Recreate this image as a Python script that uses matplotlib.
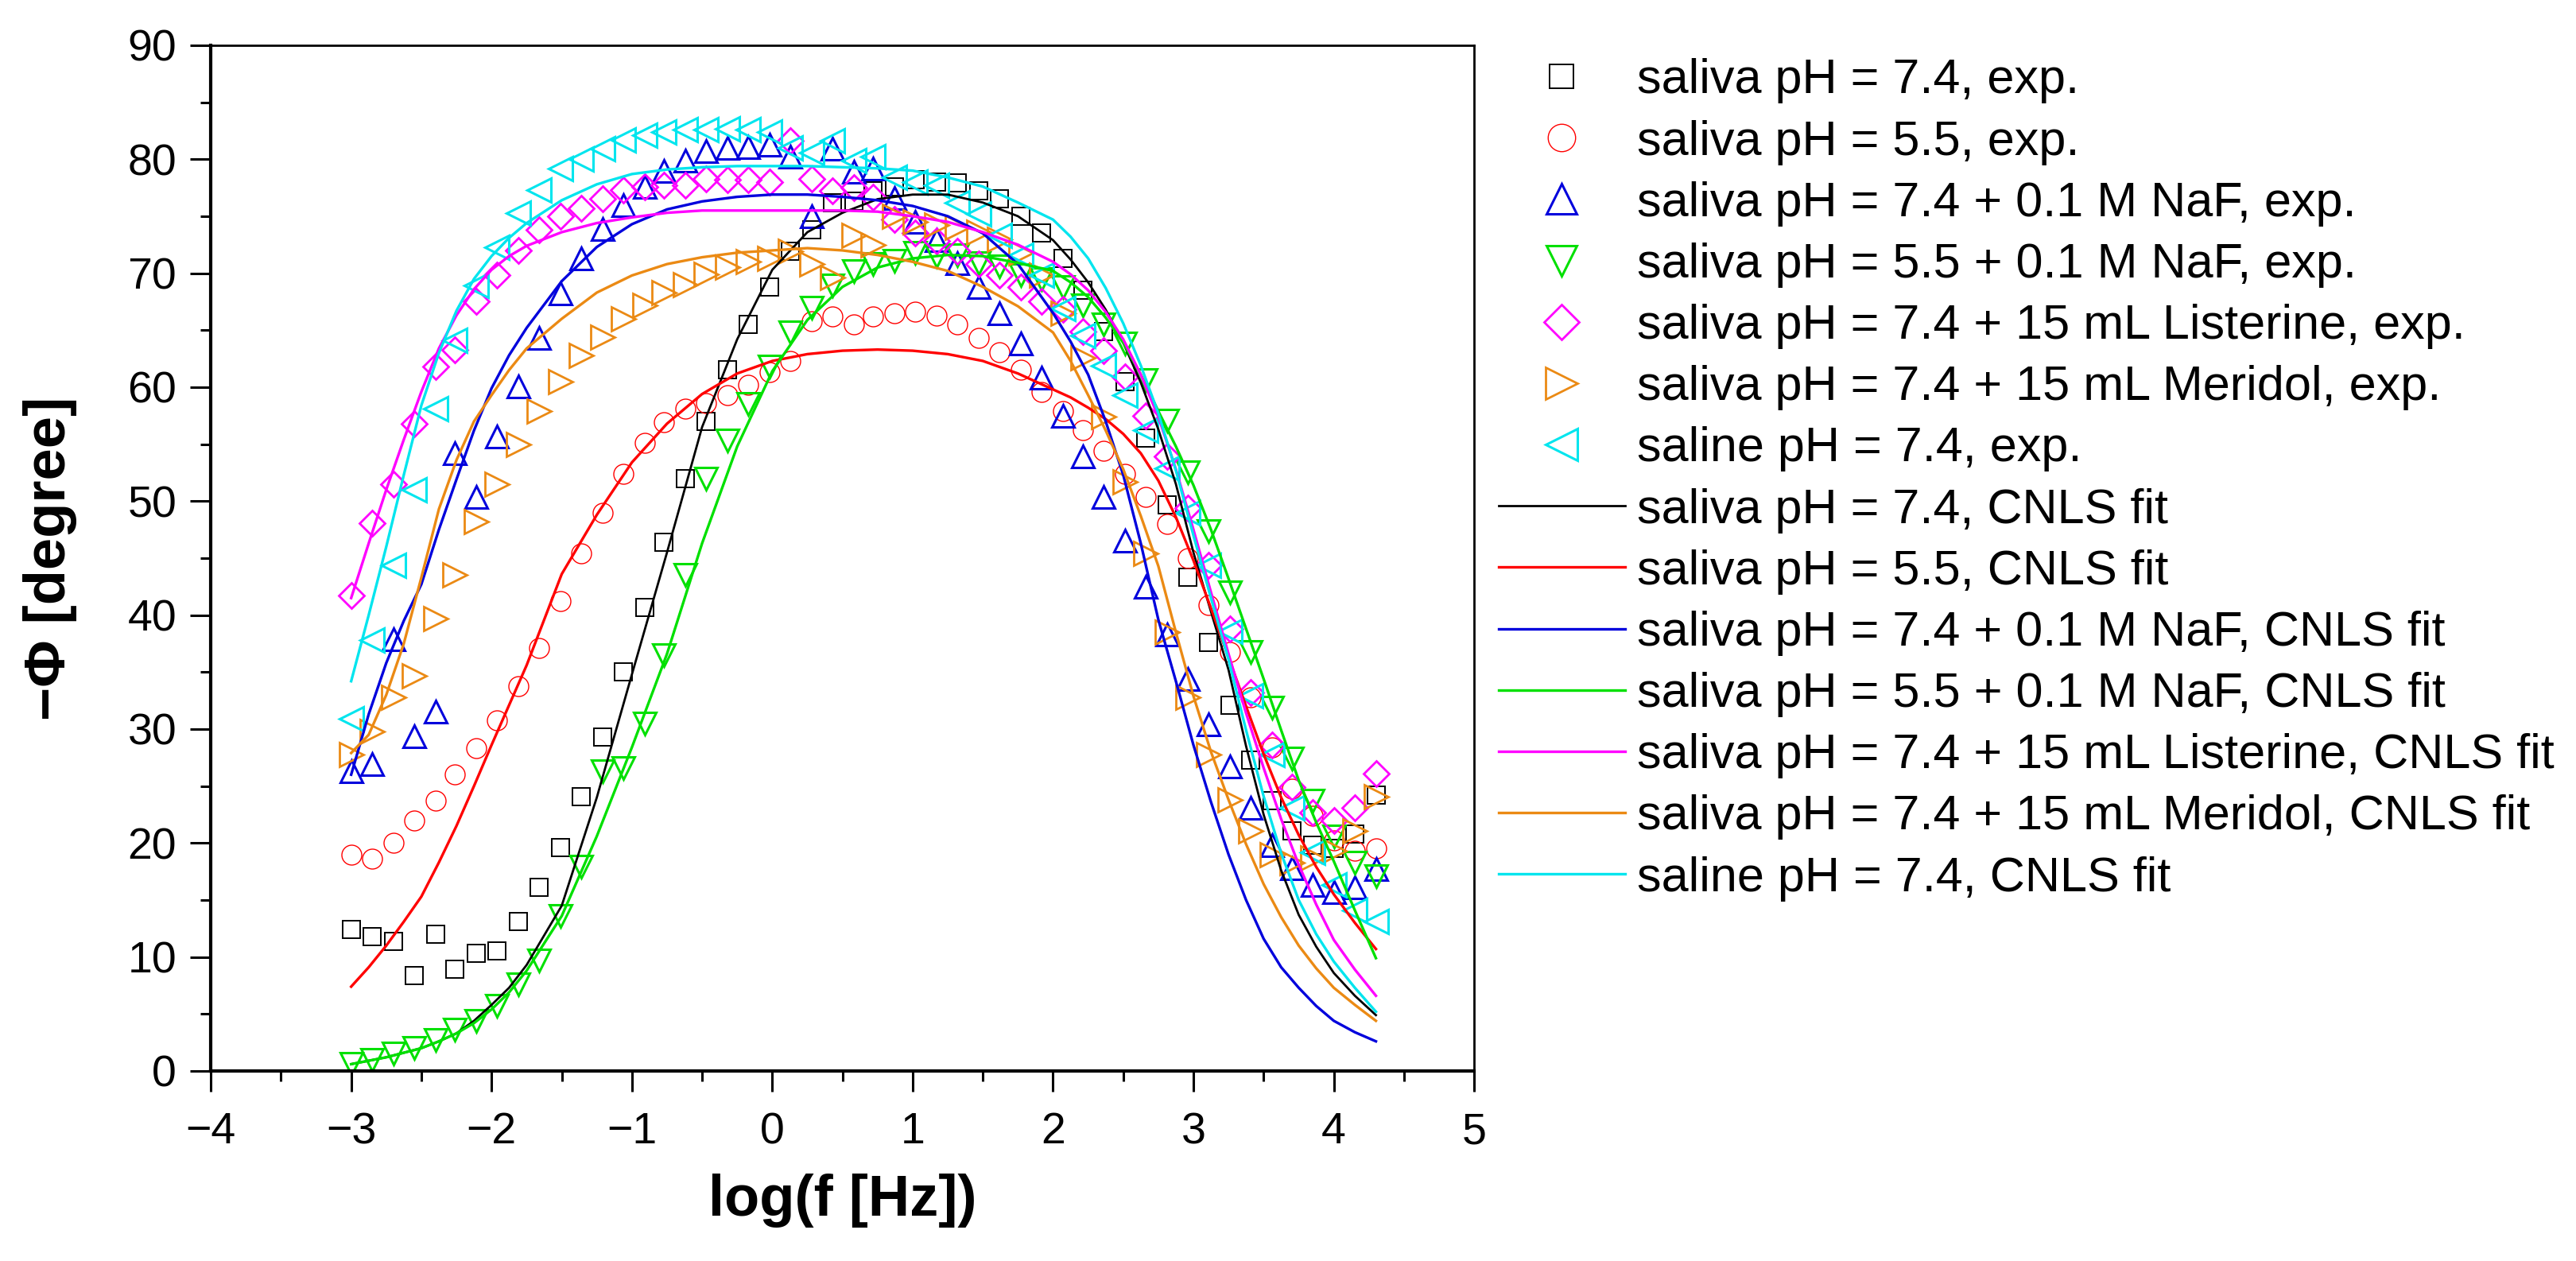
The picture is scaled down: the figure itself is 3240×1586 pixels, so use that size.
import matplotlib
matplotlib.use("Agg")
import matplotlib.pyplot as plt
from matplotlib.ticker import MultipleLocator

plt.rcParams['font.family'] = ['Liberation Sans', 'DejaVu Sans']

# log of the measured frequencies (same sweep for every sample)
log_f = [-3.00, -2.85, -2.70, -2.55, -2.40, -2.26, -2.11, -1.96, -1.81, -1.66,
         -1.51, -1.36, -1.21, -1.06, -0.91, -0.77, -0.62, -0.47, -0.32, -0.17,
         -0.02, 0.13, 0.28, 0.43, 0.58, 0.72, 0.87, 1.02, 1.17, 1.32,
         1.47, 1.62, 1.77, 1.92, 2.07, 2.21, 2.36, 2.51, 2.66, 2.81,
         2.96, 3.11, 3.26, 3.41, 3.56, 3.70, 3.85, 4.00, 4.15, 4.30]

# experimental phase angles, -phi [degree]
saliva74_exp = [12.4, 11.8, 11.4, 8.4, 12.0, 8.9, 10.3, 10.5, 13.1, 16.1,
                19.6, 24.1, 29.3, 35.0, 40.7, 46.4, 52.0, 57.0, 61.5, 65.5,
                68.8, 71.9, 73.8, 76.2, 76.3, 77.2, 77.6, 78.2, 78.0, 77.9,
                77.2, 76.5, 75.0, 73.5, 71.3, 68.5, 64.9, 60.5, 55.5, 49.7,
                43.3, 37.6, 32.1, 27.3, 23.7, 21.1, 19.8, 19.5, 20.8, 24.2]
saliva55_exp = [19.0, 18.6, 20.0, 22.0, 23.7, 26.0, 28.3, 30.8, 33.8, 37.1,
                41.2, 45.4, 49.0, 52.4, 55.1, 56.9, 58.1, 58.6, 59.3, 60.2,
                61.3, 62.3, 65.8, 66.2, 65.5, 66.2, 66.5, 66.6, 66.3, 65.5,
                64.3, 63.1, 61.5, 59.6, 57.9, 56.2, 54.4, 52.4, 50.4, 48.0,
                45.0, 40.9, 36.8, 32.8, 28.4, 24.8, 22.4, 20.2, 19.3, 19.5]
saliva74_naf_exp = [26.3, 26.9, 37.9, 29.4, 31.5, 54.2, 50.4, 55.7, 60.1, 64.3,
                    68.2, 71.3, 73.9, 76.0, 77.6, 79.0, 79.9, 80.7, 81.0, 81.1,
                    81.3, 80.2, 75.0, 80.9, 78.9, 79.2, 76.6, 74.5, 72.9, 70.9,
                    68.8, 66.5, 63.8, 60.8, 57.5, 53.9, 50.4, 46.5, 42.5, 38.3,
                    34.4, 30.4, 26.7, 23.1, 19.8, 17.8, 16.3, 15.7, 16.1, 17.7]
saliva55_naf_exp = [0.6, 1.0, 1.5, 2.0, 2.7, 3.6, 4.4, 5.7, 7.6, 9.7,
                    13.6, 17.9, 26.3, 26.6, 30.5, 36.5, 43.5, 52.0, 55.3, 58.5,
                    61.8, 64.8, 67.0, 68.9, 70.2, 70.8, 71.1, 71.8, 71.5, 71.6,
                    70.9, 70.6, 69.8, 69.5, 68.8, 67.2, 65.5, 63.8, 60.6, 57.1,
                    52.5, 47.4, 42.0, 36.8, 31.9, 27.4, 23.7, 20.6, 18.3, 17.1]
listerine_exp = [41.7, 48.1, 51.5, 56.8, 61.8, 63.3, 67.5, 69.8, 72.0, 73.8,
                 75.0, 75.7, 76.5, 77.3, 77.6, 77.7, 77.7, 78.3, 78.2, 78.2,
                 78.0, 81.6, 78.3, 77.2, 77.5, 76.7, 74.7, 73.5, 72.8, 71.9,
                 70.8, 69.8, 68.8, 67.5, 66.8, 64.9, 63.2, 60.9, 57.5, 53.9,
                 49.4, 44.4, 38.8, 33.2, 28.6, 24.9, 22.7, 22.0, 23.1, 26.1]
meridol_exp = [27.8, 29.8, 32.8, 34.7, 39.7, 43.5, 48.2, 51.5, 55.0, 57.9,
               60.5, 62.8, 64.4, 66.0, 67.2, 68.3, 69.0, 69.9, 70.5, 71.0,
               71.3, 71.9, 70.8, 69.6, 73.3, 72.5, 75.0, 74.5, 74.2, 74.0,
               73.6, 73.0, 71.8, 69.8, 66.5, 62.6, 57.4, 51.7, 45.4, 38.5,
               32.8, 27.8, 23.8, 21.1, 19.0, 18.3, 18.7, 19.3, 21.1, 24.1]
saline_exp = [30.9, 37.8, 44.4, 51.0, 58.1, 64.1, 68.9, 72.3, 75.3, 77.3,
              79.2, 80.0, 80.9, 81.7, 82.1, 82.4, 82.6, 82.6, 82.7, 82.6,
              82.4, 81.0, 80.6, 81.6, 79.9, 80.2, 78.4, 78.0, 77.7, 76.2,
              75.2, 73.3, 71.6, 69.8, 66.9, 64.5, 61.9, 59.3, 56.2, 52.9,
              49.0, 44.4, 38.6, 32.9, 27.8, 23.1, 19.2, 16.3, 14.1, 13.1]

fit_log_f = [-3.0, -2.875, -2.75, -2.625, -2.5, -2.375, -2.25, -2.125, -2.0, -1.875,
             -1.75, -1.5, -1.25, -1.0, -0.75, -0.5, -0.25, 0.0, 0.25, 0.5,
             0.75, 1.0, 1.25, 1.5, 1.75, 2.0, 2.125, 2.25, 2.375, 2.5,
             2.625, 2.75, 2.875, 3.0, 3.125, 3.25, 3.375, 3.5, 3.625, 3.75,
             3.875, 4.0, 4.15, 4.3]

saliva74_fit = [0.6, 0.9, 1.2, 1.6, 2.0, 2.6, 3.3, 4.4, 5.8, 7.3,
                9.3, 14.5, 24.0, 34.8, 45.5, 56.5, 64.2, 70.3, 73.6, 75.3,
                76.5, 76.9, 76.9, 76.2, 75.0, 72.9, 71.2, 69.2, 66.8, 63.9,
                60.4, 56.3, 51.5, 45.5, 40.3, 35.2, 28.5, 22.5, 17.6, 13.7,
                10.9, 8.6, 6.6, 4.9]
saliva55_fit = [7.4, 9.1, 11.0, 13.1, 15.3, 18.3, 21.5, 25.0, 28.6, 32.1,
                35.6, 43.6, 48.8, 53.4, 56.8, 59.4, 61.2, 62.3, 62.9, 63.2,
                63.3, 63.2, 62.9, 62.3, 61.2, 59.8, 59.1, 58.2, 57.2, 55.9,
                54.2, 51.8, 48.6, 44.8, 40.6, 36.3, 32.0, 27.8, 24.0, 20.7,
                17.9, 15.5, 13.0, 10.7]
saliva74_naf_fit = [26.0, 31.3, 35.8, 39.5, 42.7, 47.5, 51.9, 56.2, 59.9, 62.8,
                    65.2, 69.3, 72.3, 74.3, 75.6, 76.3, 76.7, 76.9, 76.9, 76.7,
                    76.4, 75.9, 75.0, 73.5, 70.8, 66.5, 64.0, 61.1, 57.0, 52.3,
                    46.3, 39.6, 34.2, 28.6, 23.6, 19.0, 15.0, 11.6, 9.1, 7.3,
                    5.7, 4.4, 3.4, 2.6]
saliva55_naf_fit = [0.6, 0.9, 1.2, 1.6, 2.0, 2.6, 3.3, 4.2, 5.4, 6.9,
                    8.8, 13.6, 20.6, 28.4, 36.6, 46.3, 54.8, 61.4, 65.9, 68.8,
                    70.5, 71.3, 71.6, 71.5, 70.9, 70.2, 69.2, 67.9, 66.1, 63.9,
                    61.1, 57.9, 54.8, 51.4, 47.5, 43.2, 38.8, 34.4, 29.9, 25.5,
                    21.8, 18.4, 14.1, 9.9]
listerine_fit = [41.5, 46.3, 51.0, 55.4, 59.6, 63.4, 66.3, 68.6, 70.3, 71.5,
                 72.4, 73.6, 74.4, 74.9, 75.3, 75.5, 75.5, 75.5, 75.5, 75.5,
                 75.4, 75.0, 74.5, 73.6, 72.5, 71.0, 69.9, 68.5, 66.6, 64.2,
                 61.1, 57.4, 52.8, 47.5, 42.0, 36.6, 31.4, 26.6, 22.1, 18.1,
                 14.6, 11.5, 8.9, 6.6]
meridol_fit = [27.9, 29.5, 33.0, 37.5, 43.3, 49.3, 53.6, 57.0, 59.3, 61.5,
               63.4, 66.0, 68.3, 69.8, 70.8, 71.4, 71.8, 72.0, 72.2, 72.0,
               71.6, 71.0, 70.2, 68.8, 67.1, 64.8, 62.3, 59.3, 56.2, 52.8,
               48.7, 44.3, 38.5, 32.9, 28.0, 23.8, 19.9, 16.4, 13.5, 11.0,
               9.0, 7.3, 5.8, 4.4]
saline_fit = [34.2, 40.0, 46.0, 52.3, 58.4, 63.0, 66.7, 69.5, 71.5, 73.1,
              74.4, 76.4, 77.8, 78.7, 79.1, 79.3, 79.4, 79.4, 79.4, 79.3,
              79.2, 79.0, 78.4, 77.6, 76.2, 74.7, 73.2, 71.3, 68.7, 65.6,
              61.9, 57.7, 52.7, 47.0, 41.5, 36.1, 29.9, 24.1, 19.1, 15.0,
              12.0, 9.6, 7.3, 5.2]

names = ["saliva pH = 7.4", "saliva pH = 5.5", "saliva pH = 7.4 + 0.1 M NaF",
         "saliva pH = 5.5 + 0.1 M NaF", "saliva pH = 7.4 + 15 mL Listerine",
         "saliva pH = 7.4 + 15 mL Meridol", "saline pH = 7.4"]
exp_data = [saliva74_exp, saliva55_exp, saliva74_naf_exp, saliva55_naf_exp,
            listerine_exp, meridol_exp, saline_exp]
fit_data = [saliva74_fit, saliva55_fit, saliva74_naf_fit, saliva55_naf_fit,
            listerine_fit, meridol_fit, saline_fit]

# styles: colour, marker, marker size, marker edge width
colors = ['#000000', '#FF0000', '#0000DC', '#00E000', '#FF00FF', '#EB8A14', '#00E5EE']
markers = ['s', 'o', '^', 'v', 'D', '>', '<']
msizes = [7.9, 9.0, 10.0, 10.0, 8.0, 10.5, 10.5]
mews = [0.7, 0.5, 1.1, 1.1, 1.0, 1.0, 1.1]


def main():
    fig = plt.figure(figsize=(16.205, 7.93), dpi=200)
    ax = fig.add_axes([0.0818, 0.1507, 0.4903, 0.8134])

    for name, vals, c, m, ms, mew in zip(names, exp_data, colors, markers, msizes, mews):
        ax.plot(log_f, vals, linestyle='none', marker=m, ms=ms, mfc='none',
                mec=c, mew=mew, label=name + ", exp.")

    for name, vals, c in zip(names, fit_data, colors):
        lw = 1.0 if c == '#000000' else 1.2
        ax.plot(fit_log_f, vals, color=c, lw=lw, label=name + ", CNLS fit")

    ax.set_xlim(-4, 5)
    ax.set_ylim(0, 90)
    ax.xaxis.set_major_locator(MultipleLocator(1))
    ax.xaxis.set_minor_locator(MultipleLocator(0.5))
    ax.yaxis.set_major_locator(MultipleLocator(10))
    ax.yaxis.set_minor_locator(MultipleLocator(5))
    ax.tick_params(which='both', direction='out', top=False, right=False, width=1.1)
    ax.tick_params(which='major', length=9.5, labelsize=20)
    ax.tick_params(axis='x', which='major', pad=9)
    ax.tick_params(axis='y', which='major', pad=6)
    ax.tick_params(which='minor', length=4.7)
    for side in ['left', 'bottom']:
        ax.spines[side].set_linewidth(1.5)
    for side in ['top', 'right']:
        ax.spines[side].set_linewidth(1.0)

    ax.set_xlabel("log(f [Hz])", fontsize=26, fontweight='bold')
    ax.set_ylabel("\u2212\u03a6 [degree]", fontsize=26, fontweight='bold')
    ax.xaxis.set_label_coords(0.5, -0.1)
    ax.yaxis.set_label_coords(-0.106, 0.5)

    ax.legend(loc='upper left', bbox_to_anchor=(0.5816, 0.9537),
              bbox_transform=fig.transFigure, frameon=False, fontsize=22,
              borderpad=0, borderaxespad=0, labelspacing=0.33,
              handlelength=2.6, handletextpad=0.25, markerscale=1.38)

    fig.savefig("out.png", dpi=200)


main()
